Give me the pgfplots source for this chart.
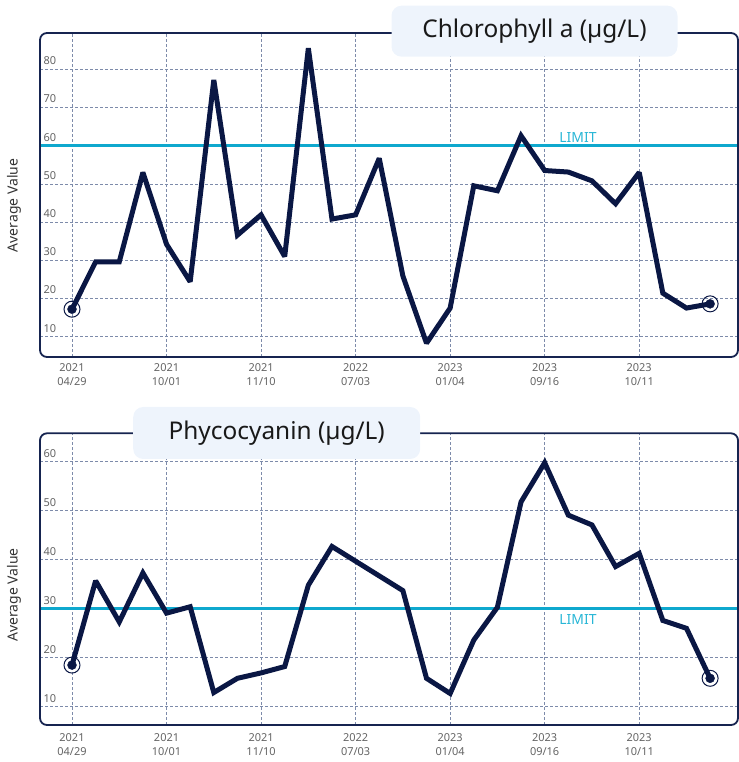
\documentclass[border=0pt]{standalone}
\usepackage{fontspec}
\setmainfont{Noto Sans}
\usepackage{pgfplots}
\pgfplotsset{compat=1.18}
\definecolor{navy}{RGB}{10,23,68}
\definecolor{framec}{RGB}{22,36,80}
\definecolor{gridc}{RGB}{125,139,170}
\definecolor{limitc}{RGB}{14,168,206}
\definecolor{limittxt}{RGB}{40,182,214}
\definecolor{tickc}{RGB}{100,100,100}
\definecolor{titlefill}{RGB}{238,244,252}

\pgfplotsset{
  mystyle/.style={
    scale only axis, width=698bp, anchor=south west,
    xmin=-1.354, xmax=28.18,
    xtick={0,4,...,24},
    xticklabels={{2021\\04/29},{2021\\10/01},{2021\\11/10},{2022\\07/03},{2023\\01/04},{2023\\09/16},{2023\\10/11}},
    grid=major,
    major grid style={gridc, dash pattern=on 2.5bp off 2.5bp, line width=0.7bp},
    axis line style={draw=none},
    major tick length=0pt,
    /pgf/number format/assume math mode=true,
    yticklabel style={anchor=south west, font=\fontsize{11}{13}\selectfont, text=tickc, yshift=1bp},
    xticklabel style={align=center, anchor=north, font=\fontsize{11}{14}\selectfont, text=tickc},
    every axis y label/.style={rotate=90, anchor=center, font=\fontsize{14}{16}\selectfont, text=black!80},
    ylabel={Average Value},
    clip=false,
  }
}

\pgfplotstableread{
x y
0 17.2
1 29.6
2 29.6
3 53.0
4 34.2
5 24.4
6 77.2
7 36.6
8 41.9
9 31.0
10 85.5
11 40.8
12 41.9
13 56.7
14 25.9
15 8.3
16 17.5
17 49.5
18 48.2
19 62.6
20 53.5
21 53.1
22 50.8
23 44.8
24 53.0
25 21.4
26 17.5
27 18.6
}\chla

\pgfplotstableread{
x y
0 18.5
1 35.7
2 27.3
3 37.3
4 29.1
5 30.4
6 12.9
7 15.8
8 16.9
9 18.2
10 34.8
11 42.7
12 39.7
13 36.7
14 33.7
15 15.8
16 12.7
17 23.6
18 30.3
19 51.8
20 59.8
21 49.1
22 47.1
23 38.6
24 41.3
25 27.6
26 26.0
27 15.8
}\phyco

\begin{document}
\begin{tikzpicture}
\useasboundingbox (0,0) rectangle (739bp,762bp);

% ---- top chart ----
\begin{axis}[mystyle, at={(40bp,405bp)}, height=324bp,
  ymin=4.69, ymax=89.5, ytick={10,20,...,80},
  xticklabel style={yshift=-3bp},
  every axis y label/.append style={at={(axis description cs:-0.0372,0.4676)}}]
\addplot[limitc, line width=3.5bp, forget plot] coordinates {(-1.354,60) (28.18,60)};
\addplot[only marks, mark=o, mark size=8bp, mark options={draw=navy, line width=1bp}] coordinates {(0,17.2) (27,18.6)};
\addplot[navy, line width=5bp, line join=miter, miter limit=2.2] table[x=x,y=y] {\chla};
\addplot[only marks, mark=*, mark size=4.5bp, navy] coordinates {(0,17.2) (27,18.6)};
\node[text=limittxt, font=\fontsize{14}{16}\selectfont] at (axis cs:21.41,62.1) {LIMIT};
\draw[framec, line width=1.8bp, rounded corners=7bp] (rel axis cs:0,0) rectangle (rel axis cs:1,1);
\end{axis}

% ---- bottom chart ----
\begin{axis}[mystyle, at={(40bp,37bp)}, height=291.7bp,
  ymin=6.27, ymax=65.8, ytick={10,20,...,60},
  xticklabel style={yshift=-5bp},
  every axis y label/.append style={at={(axis description cs:-0.0372,0.4457)}}]
\addplot[limitc, line width=3.5bp, forget plot] coordinates {(-1.354,30) (28.18,30)};
\addplot[only marks, mark=o, mark size=8bp, mark options={draw=navy, line width=1bp}] coordinates {(0,18.5) (27,15.8)};
\addplot[navy, line width=5bp, line join=miter, miter limit=2.2] table[x=x,y=y] {\phyco};
\addplot[only marks, mark=*, mark size=4.5bp, navy] coordinates {(0,18.5) (27,15.8)};
\node[text=limittxt, font=\fontsize{14}{16}\selectfont] at (axis cs:21.41,27.7) {LIMIT};
\draw[framec, line width=1.8bp, rounded corners=7bp] (rel axis cs:0,0) rectangle (rel axis cs:1,1);
\end{axis}

% ---- titles ----
\node[fill=titlefill, rounded corners=10bp, minimum width=286bp, minimum height=51bp,
      font=\fontsize{24.5}{28}\selectfont, text=black!90] at (534.5bp,730.8bp) {Chlorophyll a (µg/L)};
\node[fill=titlefill, rounded corners=10bp, minimum width=287bp, minimum height=52bp,
      font=\fontsize{24.5}{28}\selectfont, text=black!90] at (276.7bp,329bp) {Phycocyanin (µg/L)};
\end{tikzpicture}
\end{document}
